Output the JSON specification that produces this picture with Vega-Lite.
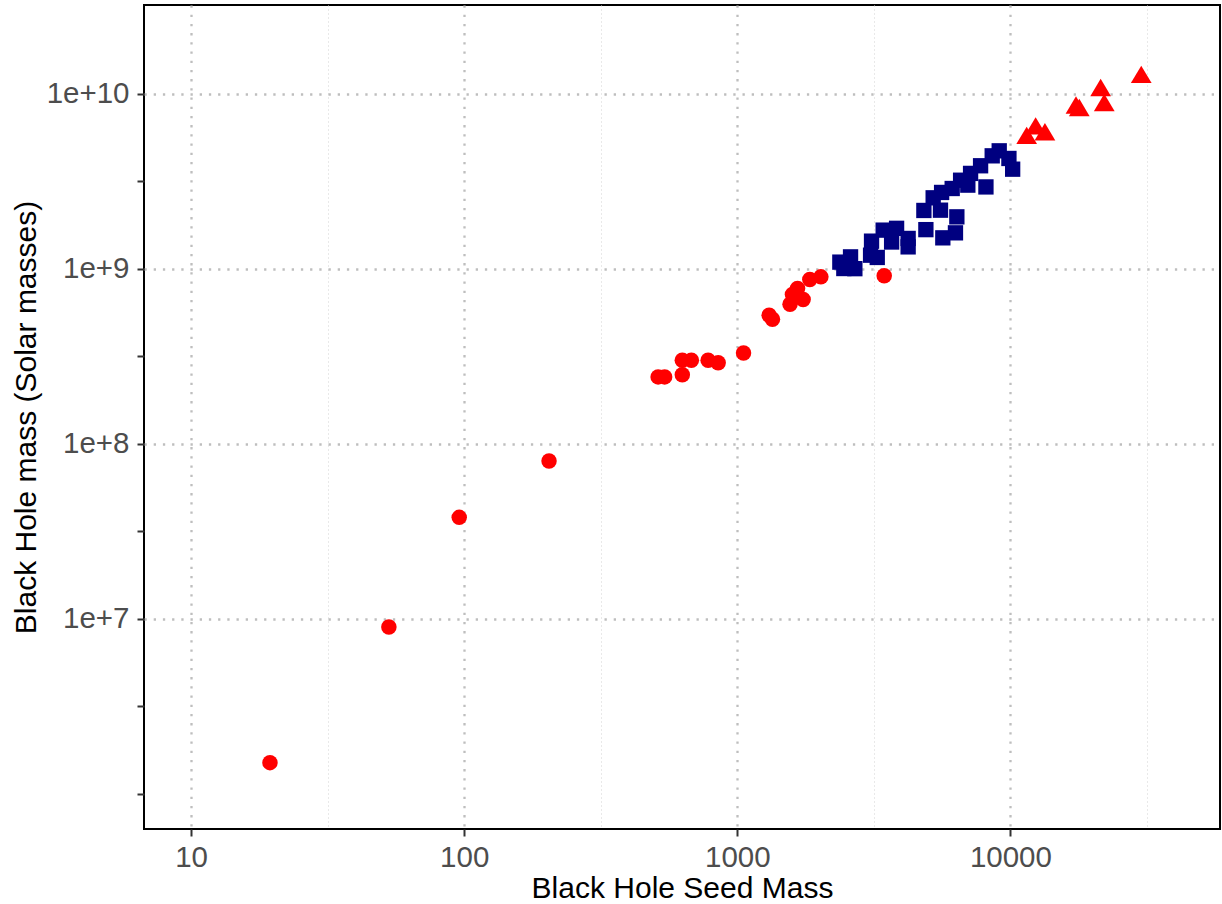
{
  "$schema": "https://vega.github.io/schema/vega-lite/v6.json",
  "width": 1076,
  "height": 824,
  "autosize": {"type": "none"},
  "padding": {"left": 144, "top": 5, "right": 2, "bottom": 75},
  "background": "white",
  "config": {
    "view": {"stroke": "black", "strokeWidth": 2},
    "font": "Liberation Sans"
  },
  "data": {
    "values": [
      {"seed": 19.45, "mass": 1.51e6, "group": "low"},
      {"seed": 53.0, "mass": 8.98e6, "group": "low"},
      {"seed": 95.9, "mass": 3.8e7, "group": "low"},
      {"seed": 204.5, "mass": 7.98e7, "group": "low"},
      {"seed": 513, "mass": 2.41e8, "group": "low"},
      {"seed": 542, "mass": 2.41e8, "group": "low"},
      {"seed": 629, "mass": 3.0e8, "group": "low"},
      {"seed": 679, "mass": 3.0e8, "group": "low"},
      {"seed": 629, "mass": 2.48e8, "group": "low"},
      {"seed": 782, "mass": 3.0e8, "group": "low"},
      {"seed": 851, "mass": 2.9e8, "group": "low"},
      {"seed": 1054, "mass": 3.3e8, "group": "low"},
      {"seed": 1308, "mass": 5.42e8, "group": "low"},
      {"seed": 1345, "mass": 5.14e8, "group": "low"},
      {"seed": 1560, "mass": 6.27e8, "group": "low"},
      {"seed": 1592, "mass": 7.13e8, "group": "low"},
      {"seed": 1662, "mass": 7.71e8, "group": "low"},
      {"seed": 1742, "mass": 6.67e8, "group": "low"},
      {"seed": 1843, "mass": 8.67e8, "group": "low"},
      {"seed": 2023, "mass": 8.98e8, "group": "low"},
      {"seed": 3451, "mass": 9.1e8, "group": "low"},
      {"seed": 2374, "mass": 1.09e9, "group": "mid"},
      {"seed": 2598, "mass": 1.168e9, "group": "mid"},
      {"seed": 2455, "mass": 1.002e9, "group": "mid"},
      {"seed": 2694, "mass": 1.0e9, "group": "mid"},
      {"seed": 3101, "mass": 1.436e9, "group": "mid"},
      {"seed": 3076, "mass": 1.194e9, "group": "mid"},
      {"seed": 3254, "mass": 1.159e9, "group": "mid"},
      {"seed": 3421, "mass": 1.66e9, "group": "mid"},
      {"seed": 3830, "mass": 1.70e9, "group": "mid"},
      {"seed": 3673, "mass": 1.42e9, "group": "mid"},
      {"seed": 4222, "mass": 1.488e9, "group": "mid"},
      {"seed": 4222, "mass": 1.332e9, "group": "mid"},
      {"seed": 4903, "mass": 1.671e9, "group": "mid"},
      {"seed": 4821, "mass": 2.15e9, "group": "mid"},
      {"seed": 5656, "mass": 1.5e9, "group": "mid"},
      {"seed": 6292, "mass": 1.602e9, "group": "mid"},
      {"seed": 5546, "mass": 2.158e9, "group": "mid"},
      {"seed": 6366, "mass": 1.977e9, "group": "mid"},
      {"seed": 5214, "mass": 2.539e9, "group": "mid"},
      {"seed": 5598, "mass": 2.725e9, "group": "mid"},
      {"seed": 6121, "mass": 2.87e9, "group": "mid"},
      {"seed": 6571, "mass": 3.2e9, "group": "mid"},
      {"seed": 7147, "mass": 3.5e9, "group": "mid"},
      {"seed": 7776, "mass": 3.87e9, "group": "mid"},
      {"seed": 8135, "mass": 2.93e9, "group": "mid"},
      {"seed": 8577, "mass": 4.41e9, "group": "mid"},
      {"seed": 9099, "mass": 4.71e9, "group": "mid"},
      {"seed": 10190, "mass": 3.70e9, "group": "mid"},
      {"seed": 9875, "mass": 4.26e9, "group": "mid"},
      {"seed": 6983, "mass": 3.0e9, "group": "mid"},
      {"seed": 11468, "mass": 5.77e9, "group": "high"},
      {"seed": 12370, "mass": 6.54e9, "group": "high"},
      {"seed": 13378, "mass": 6.05e9, "group": "high"},
      {"seed": 17380, "mass": 8.6e9, "group": "high"},
      {"seed": 17870, "mass": 8.32e9, "group": "high"},
      {"seed": 21400, "mass": 1.082e10, "group": "high"},
      {"seed": 22060, "mass": 8.89e9, "group": "high"},
      {"seed": 30130, "mass": 1.287e10, "group": "high"}
    ]
  },
  "encoding": {
    "x": {
      "field": "seed",
      "type": "quantitative",
      "title": "Black Hole Seed Mass",
      "scale": {"type": "log", "domain": [6.725, 58530], "nice": false, "zero": false},
      "axis": {
        "values": [10, 31.6228, 100, 316.228, 1000, 3162.28, 10000, 31622.8],
        "labelExpr": "abs(log(datum.value)/LN10 - round(log(datum.value)/LN10)) < 0.01 ? format(datum.value, 'd') : ''",
        "domain": false,
        "grid": true,
        "gridColor": {"condition": {"test": "abs(log(datum.value)/LN10 - round(log(datum.value)/LN10)) < 0.01", "value": "#BEBEBE"}, "value": "#D3D3D3"},
        "gridWidth": {"condition": {"test": "abs(log(datum.value)/LN10 - round(log(datum.value)/LN10)) < 0.01", "value": 2.3}, "value": 1},
        "gridDash": {"condition": {"test": "abs(log(datum.value)/LN10 - round(log(datum.value)/LN10)) < 0.01", "value": [2.3, 6.9]}, "value": [1, 3]},
        "tickOpacity": {"condition": {"test": "abs(log(datum.value)/LN10 - round(log(datum.value)/LN10)) < 0.01", "value": 1}, "value": 0},
        "tickColor": "#333333",
        "tickWidth": 2,
        "tickSize": 7,
        "labelPadding": 7,
        "labelFontSize": 29.5,
        "labelColor": "#4D4D4D",
        "labelFont": "Liberation Sans",
        "titleFont": "Liberation Sans",
        "titleFontSize": 30,
        "titleFontWeight": "normal",
        "titleColor": "black",
        "titlePadding": 2
      }
    },
    "y": {
      "field": "mass",
      "type": "quantitative",
      "title": "Black Hole mass (Solar masses)",
      "scale": {"type": "log", "domain": [6.31e5, 3.205e10], "nice": false, "zero": false},
      "axis": {
        "values": [1e6, 3162278, 1e7, 31622777, 1e8, 316227766, 1e9, 3162277660, 1e10],
        "labelExpr": "abs(log(datum.value)/LN10 - round(log(datum.value)/LN10)) < 0.01 && datum.value > 5e6 ? format(datum.value, '.0e') : ''",
        "domain": false,
        "grid": true,
        "gridColor": "#BEBEBE",
        "gridWidth": 2.3,
        "gridDash": [2.3, 6.9],
        "gridOpacity": {"condition": {"test": "abs(log(datum.value)/LN10 - round(log(datum.value)/LN10)) < 0.01 && datum.value > 5e6", "value": 1}, "value": 0},
        "tickColor": "#333333",
        "tickWidth": 2,
        "tickSize": 7,
        "labelPadding": 8,
        "labelFontSize": 29.5,
        "labelColor": "#4D4D4D",
        "labelFont": "Liberation Sans",
        "titleFont": "Liberation Sans",
        "titleFontSize": 30,
        "titleFontWeight": "normal",
        "titleColor": "black",
        "titlePadding": 5
      }
    }
  },
  "layer": [
    {
      "transform": [{"filter": "datum.group === 'low'"}],
      "mark": {"type": "point", "shape": "circle", "filled": true, "opacity": 1, "strokeWidth": 0, "size": 240, "color": "#FF0000"}
    },
    {
      "transform": [{"filter": "datum.group === 'mid'"}],
      "mark": {"type": "point", "shape": "square", "filled": true, "opacity": 1, "strokeWidth": 0, "size": 235, "color": "#000080"}
    },
    {
      "transform": [{"filter": "datum.group === 'high'"}],
      "mark": {"type": "point", "shape": "M0,-0.84L1,0.84L-1,0.84Z", "filled": true, "opacity": 1, "strokeWidth": 0, "size": 430, "color": "#FF0000"}
    }
  ]
}
